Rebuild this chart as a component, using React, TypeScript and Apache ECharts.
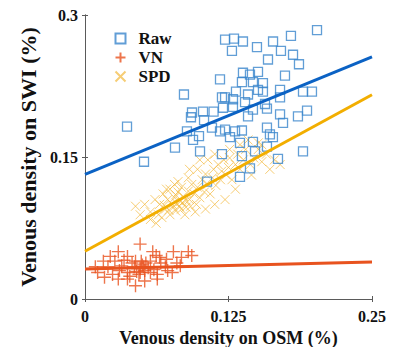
import React, { useEffect, useRef } from "react";
import * as echarts from "echarts";

const xTicks = [0, 0.125, 0.25];
const yTicks = [0, 0.15, 0.3];

const rawPoints: number[][] = [
  [0.0366, 0.182], [0.0514, 0.145], [0.0784, 0.16], [0.0862, 0.216], [0.0923, 0.192],
  [0.0888, 0.177], [0.0941, 0.168], [0.0993, 0.172], [0.1002, 0.156], [0.1028, 0.198],
  [0.1037, 0.189], [0.0932, 0.197], [0.1063, 0.124], [0.1176, 0.232], [0.1193, 0.213],
  [0.122, 0.213], [0.122, 0.274], [0.1202, 0.202], [0.1176, 0.177], [0.1193, 0.153],
  [0.1298, 0.275], [0.128, 0.262], [0.1376, 0.272], [0.1498, 0.266], [0.1638, 0.272],
  [0.1794, 0.278], [0.2021, 0.284], [0.1707, 0.262], [0.1812, 0.258], [0.1864, 0.248],
  [0.1594, 0.253], [0.1742, 0.236], [0.1376, 0.239], [0.1437, 0.237], [0.1507, 0.24],
  [0.1367, 0.229], [0.1463, 0.229], [0.155, 0.228], [0.1315, 0.219], [0.142, 0.216],
  [0.1507, 0.221], [0.155, 0.219], [0.1699, 0.221], [0.1899, 0.219], [0.1977, 0.219],
  [0.1289, 0.211], [0.1394, 0.208], [0.1568, 0.206], [0.1699, 0.213], [0.1585, 0.201],
  [0.1934, 0.199], [0.1463, 0.2], [0.1289, 0.203], [0.142, 0.193], [0.1699, 0.195],
  [0.1725, 0.186], [0.1855, 0.193], [0.122, 0.179], [0.1307, 0.177], [0.1367, 0.178],
  [0.1263, 0.171], [0.135, 0.165], [0.1463, 0.166], [0.1585, 0.181], [0.1611, 0.174],
  [0.1637, 0.171], [0.1585, 0.161], [0.1481, 0.156], [0.1367, 0.151], [0.1681, 0.148],
  [0.1899, 0.156], [0.1437, 0.138], [0.135, 0.129], [0.1106, 0.181], [0.112, 0.198],
];

const vnPoints: number[][] = [
  [0.048, 0.058], [0.029, 0.05], [0.059, 0.05], [0.077, 0.05], [0.09, 0.05],
  [0.022, 0.045], [0.037, 0.045], [0.065, 0.044], [0.071, 0.042], [0.084, 0.044],
  [0.016, 0.04], [0.026, 0.04], [0.044, 0.04], [0.057, 0.04], [0.009, 0.034],
  [0.02, 0.034], [0.032, 0.035], [0.051, 0.034], [0.07, 0.034], [0.083, 0.035],
  [0.011, 0.028], [0.024, 0.026], [0.037, 0.028], [0.048, 0.028], [0.063, 0.026],
  [0.076, 0.028], [0.037, 0.021], [0.052, 0.019], [0.063, 0.021], [0.029, 0.021],
  [0.017, 0.023], [0.044, 0.014], [0.048, 0.032], [0.052, 0.03], [0.05, 0.036],
  [0.045, 0.029], [0.055, 0.033], [0.047, 0.026], [0.053, 0.038], [0.043, 0.034],
  [0.057, 0.028], [0.049, 0.04], [0.041, 0.038], [0.06, 0.031], [0.034, 0.041],
  [0.066, 0.038], [0.03, 0.03], [0.072, 0.03], [0.039, 0.024], [0.062, 0.046],
  [0.093, 0.046], [0.08, 0.038],
];

const spdPoints: number[][] = [
  [0.052, 0.1], [0.057, 0.092], [0.061, 0.105], [0.064, 0.089], [0.065, 0.1],
  [0.068, 0.111], [0.07, 0.095], [0.072, 0.105], [0.074, 0.116], [0.076, 0.1],
  [0.078, 0.107], [0.079, 0.093], [0.081, 0.113], [0.083, 0.103], [0.084, 0.118],
  [0.086, 0.108], [0.088, 0.097], [0.09, 0.114], [0.091, 0.105], [0.093, 0.121],
  [0.095, 0.111], [0.097, 0.1], [0.098, 0.118], [0.1, 0.107], [0.102, 0.126],
  [0.104, 0.113], [0.105, 0.132], [0.107, 0.121], [0.109, 0.111], [0.111, 0.128],
  [0.112, 0.137], [0.114, 0.12], [0.116, 0.142], [0.118, 0.126], [0.119, 0.135],
  [0.121, 0.147], [0.123, 0.131], [0.125, 0.139], [0.126, 0.149], [0.128, 0.126],
  [0.131, 0.142], [0.133, 0.153], [0.135, 0.137], [0.138, 0.147], [0.14, 0.158],
  [0.144, 0.142], [0.147, 0.149], [0.151, 0.158], [0.154, 0.145], [0.158, 0.153],
  [0.161, 0.137], [0.165, 0.147], [0.17, 0.142], [0.057, 0.084], [0.062, 0.08],
  [0.048, 0.089], [0.044, 0.098], [0.067, 0.086], [0.074, 0.089], [0.087, 0.089],
  [0.096, 0.092], [0.105, 0.095], [0.113, 0.1], [0.122, 0.105], [0.081, 0.124],
  [0.09, 0.128], [0.098, 0.137], [0.107, 0.147], [0.113, 0.153], [0.1, 0.147],
  [0.091, 0.137], [0.078, 0.121], [0.071, 0.116], [0.126, 0.158], [0.135, 0.163],
  [0.142, 0.168], [0.151, 0.165], [0.145, 0.131], [0.154, 0.163], [0.131, 0.116],
  [0.08, 0.101], [0.082, 0.098], [0.085, 0.102], [0.077, 0.097], [0.088, 0.104],
  [0.079, 0.11], [0.084, 0.095], [0.092, 0.098], [0.069, 0.099], [0.073, 0.094],
];

const rawFit: number[][] = [[0, 0.1316], [0.25, 0.2558]];
const vnFit: number[][] = [[0, 0.0316], [0.25, 0.039]];
const spdFit: number[][] = [[0, 0.0505], [0.25, 0.2158]];

const seriesNames = ["Raw", "VN", "SPD"];

const FONT = "'Liberation Serif', 'DejaVu Serif', serif";
const PLUS = "path://M5 0 L5 10 M0 5 L10 5";
const CROSS = "path://M0 0 L10 10 M10 0 L0 10";

export default function App() {
  const ref = useRef<HTMLDivElement>(null);
  useEffect(() => {
    if (!ref.current) return;
    const chart = echarts.init(ref.current, undefined, { renderer: "svg" });
    const frameColor = "#5a5a5a";
    const tickLabel = { fontFamily: FONT, fontWeight: "bold", fontSize: 16, color: "#111" };
    chart.setOption({
      animation: false,
      backgroundColor: "#ffffff",
      grid: { left: 85, right: 26, top: 15, bottom: 48, containLabel: false, outerBoundsMode: "none" },
      legend: {
        data: seriesNames,
        orient: "vertical",
        left: 108,
        top: 25,
        itemGap: 2,
        itemWidth: 10,
        itemHeight: 10,
        textStyle: {
          fontFamily: FONT,
          fontWeight: "bold",
          fontSize: 17,
          color: "#111",
          padding: [0, 0, 0, 8],
        },
        selectedMode: false,
      },
      xAxis: [
        {
          type: "value",
          min: 0,
          max: 0.25,
          interval: 0.125,
          name: "Venous density on OSM (%)",
          nameLocation: "middle",
          nameGap: 24,
          nameTextStyle: { fontFamily: FONT, fontWeight: "bold", fontSize: 18, color: "#111" },
          axisLine: { show: true, lineStyle: { color: frameColor, width: 1 } },
          axisTick: { show: true, inside: true, length: 3, lineStyle: { color: frameColor } },
          axisLabel: {
            ...tickLabel,
            margin: 9,
            formatter: (v: number) => (xTicks.includes(v) ? String(v) : ""),
          },
          splitLine: { show: false },
        },
        {
          type: "value",
          position: "top",
          min: 0,
          max: 0.25,
          interval: 0.125,
          axisLine: { show: true, lineStyle: { color: frameColor, width: 1 } },
          axisTick: { show: true, inside: true, length: 3, lineStyle: { color: frameColor } },
          axisLabel: { show: false },
          splitLine: { show: false },
        },
      ],
      yAxis: [
        {
          type: "value",
          min: 0,
          max: 0.3,
          interval: 0.15,
          name: "Venous density on SWI (%)",
          nameLocation: "middle",
          nameGap: 34,
          nameTextStyle: { fontFamily: FONT, fontWeight: "bold", fontSize: 22, color: "#111" },
          axisLine: { show: true, lineStyle: { color: frameColor, width: 1 } },
          axisTick: { show: true, inside: true, length: 3, lineStyle: { color: frameColor } },
          axisLabel: {
            ...tickLabel,
            margin: 7,
            formatter: (v: number) => (yTicks.includes(v) ? String(v) : ""),
          },
          splitLine: { show: false },
        },
        {
          type: "value",
          position: "right",
          min: 0,
          max: 0.3,
          interval: 0.15,
          axisLine: { show: true, lineStyle: { color: frameColor, width: 1 } },
          axisTick: { show: true, inside: true, length: 3, lineStyle: { color: frameColor } },
          axisLabel: { show: false },
          splitLine: { show: false },
        },
      ],
      series: [
        {
          name: "SPD",
          type: "scatter",
          data: spdPoints,
          symbol: CROSS,
          symbolSize: 9,
          itemStyle: { color: "none", borderColor: "#f2b83a", borderWidth: 1, opacity: 0.7 },
          z: 2,
        },
        {
          name: "VN",
          type: "scatter",
          data: vnPoints,
          symbol: PLUS,
          symbolSize: 13,
          itemStyle: { color: "none", borderColor: "#e8531f", borderWidth: 1.4 },
          z: 2,
        },
        {
          name: "Raw",
          type: "scatter",
          data: rawPoints,
          symbol: "rect",
          symbolSize: 9,
          itemStyle: { color: "rgba(255,255,255,0)", borderColor: "#3a86cc", borderWidth: 1.3 },
          z: 3,
        },
        {
          name: "RawFit",
          type: "line",
          data: rawFit,
          symbol: "none",
          lineStyle: { color: "#0b62c4", width: 3 },
          z: 5,
          silent: true,
        },
        {
          name: "SPDFit",
          type: "line",
          data: spdFit,
          symbol: "none",
          lineStyle: { color: "#f2ae00", width: 3 },
          z: 5,
          silent: true,
        },
        {
          name: "VNFit",
          type: "line",
          data: vnFit,
          symbol: "none",
          lineStyle: { color: "#e8531f", width: 3 },
          z: 5,
          silent: true,
        },
      ],
    });
    return () => chart.dispose();
  }, []);
  return (
    <div
      ref={ref}
      style={{ position: "fixed", left: 0, top: 0, width: 398, height: 347, background: "#fff" }}
    />
  );
}
